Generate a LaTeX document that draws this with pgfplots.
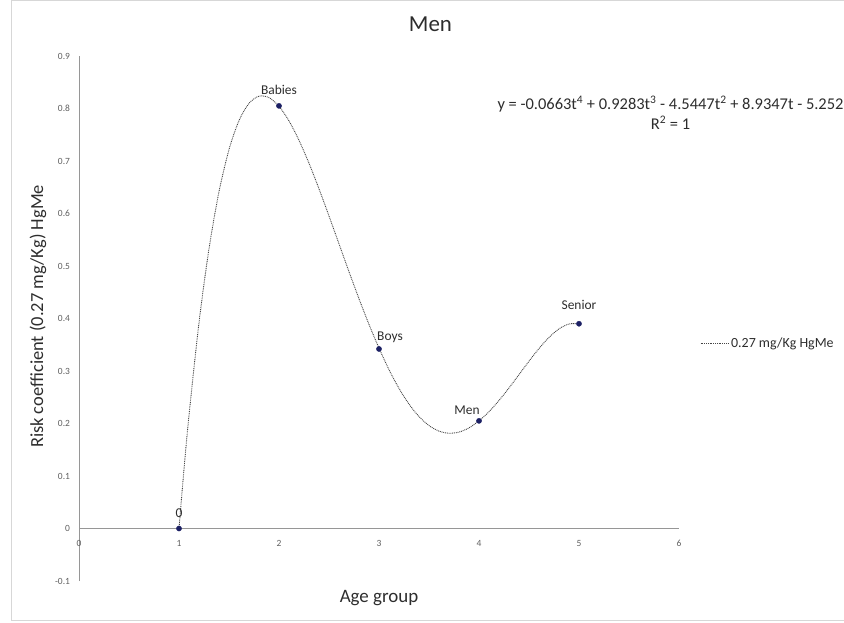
\documentclass[border=0pt]{standalone}
\usepackage{pgfplots}
\pgfplotsset{compat=1.18}
\usepackage{fontspec}
\setmainfont{Carlito}
\definecolor{mk}{RGB}{28,32,100}
\definecolor{axgray}{RGB}{150,150,150}
\definecolor{tickgray}{RGB}{95,95,95}
\definecolor{txt}{RGB}{45,45,45}
\definecolor{curve}{RGB}{70,70,70}
\definecolor{frame}{RGB}{215,215,215}
\pgfplotsset{mylegline/.style={legend image code/.code={\draw[#1] (0bp,0bp) -- (28bp,0bp);}}}
\begin{document}
\begin{tikzpicture}
\useasboundingbox (0bp,0bp) rectangle (844bp,623bp);
\draw[frame, line width=1bp] (11bp,2bp) rectangle (880bp,622bp);
\begin{axis}[
  at={(79bp,42bp)}, anchor=south west,
  scale only axis, width=600bp, height=525bp,
  xmin=0, xmax=6, ymin=-0.1, ymax=0.9,
  axis x line*=middle, axis y line*=left,
  xtick={0,1,2,3,4,5,6},
  ytick={-0.1,0,0.1,0.2,0.3,0.4,0.5,0.6,0.7,0.8,0.9},
  major tick length=0pt,
  hide obscured x ticks=false, hide obscured y ticks=false,
  axis line style={draw=axgray, line width=1bp},
  tick label style={font=\fontsize{9.5}{10}\selectfont, text=tickgray},
  xticklabel style={yshift=-8bp},
  yticklabel style={xshift=-5.5bp, /pgf/number format/fixed},
  /pgf/number format/assume math mode=true,
  clip=false,
  legend style={at={(1.035,0.4533)}, anchor=west, draw=none, fill=none,
    font=\fontsize{14}{15}\selectfont, text=txt, inner sep=0pt},
  legend cell align=left,
  mylegline,
]
\addplot[curve, line width=0.9bp, dash pattern=on 0.9bp off 0.9bp, smooth, tension=0.5]
coordinates {
(1.00,0.0000) (1.05,0.1129) (1.10,0.2156) (1.20,0.3919) (1.30,0.5327) (1.40,0.6415)
(1.50,0.7218) (1.60,0.7769) (1.70,0.8098) (1.80,0.8235) (1.90,0.8207) (2.00,0.8042)
(2.10,0.7763) (2.20,0.7394) (2.30,0.6956) (2.40,0.6470) (2.50,0.5952) (2.60,0.5421)
(2.70,0.4891) (2.80,0.4376) (2.90,0.3887) (3.00,0.3436) (3.10,0.3026) (3.20,0.2668)
(3.30,0.2369) (3.40,0.2132) (3.50,0.1961) (3.60,0.1855) (3.70,0.1814) (3.80,0.1836)
(3.90,0.1917) (4.00,0.2050) (4.10,0.2225) (4.20,0.2438) (4.30,0.2677) (4.40,0.2931)
(4.50,0.3187) (4.60,0.3429) (4.70,0.3640) (4.80,0.3802) (4.90,0.3896) (5.00,0.3900)
};
\addlegendentry{0.27 mg/Kg HgMe}
\addplot[only marks, mark=*, mark size=2.6bp, mk, forget plot]
coordinates {(1,0) (2,0.805) (3,0.342) (4,0.205) (5,0.39)};
\begin{scope}[every node/.style={font=\fontsize{13.5}{15}\selectfont, text=txt, anchor=base}]
\node[yshift=11.5bp] at (axis cs:1,0) {0};
\node[yshift=11bp] at (axis cs:2,0.805) {Babies};
\node[xshift=11bp, yshift=8bp] at (axis cs:3,0.342) {Boys};
\node[xshift=-12bp, yshift=6bp] at (axis cs:4,0.205) {Men};
\node[yshift=14bp] at (axis cs:5,0.39) {Senior};
\end{scope}
\end{axis}
\node[anchor=base, font=\fontsize{23}{26}\selectfont, text=txt] at (430.5bp,591bp) {Men};
\node[anchor=base, font=\fontsize{19}{22}\selectfont, text=txt] at (379bp,21bp) {Age group};
\node[anchor=base, rotate=90, font=\fontsize{18.5}{22}\selectfont, text=txt] at (43bp,306.5bp) {Risk coefficient (0.27 mg/Kg) HgMe};
\node[anchor=base, font=\fontsize{16.5}{19}\selectfont, text=txt] at (670.5bp,513bp) {y = -0.0663t\textsuperscript{4} + 0.9283t\textsuperscript{3} - 4.5447t\textsuperscript{2} + 8.9347t - 5.252};
\node[anchor=base, font=\fontsize{16.5}{19}\selectfont, text=txt] at (670.5bp,493bp) {R\textsuperscript{2} = 1};
\end{tikzpicture}
\end{document}
